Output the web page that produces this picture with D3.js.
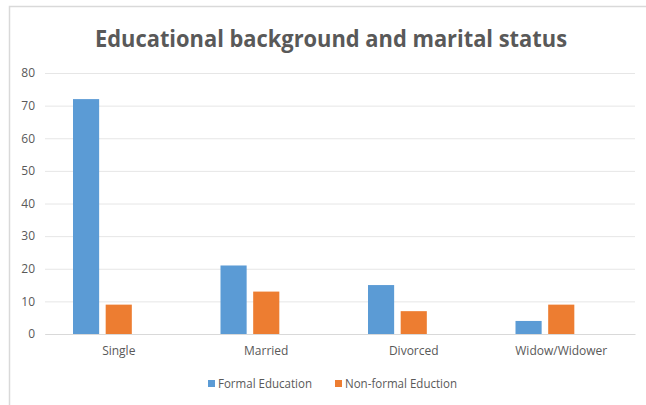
<!DOCTYPE html>
<html><head><meta charset="utf-8">
<script src="https://cdn.jsdelivr.net/npm/d3@7"></script>
<style>body{margin:0;background:#fff}svg{display:block}text{font-family:"Open Sans","Noto Sans",sans-serif}</style>
</head><body><svg id="c" width="646" height="405"></svg>
<script>
const categories = ["Single","Married","Divorced","Widow/Widower"];
const seriesNames = ["Formal Education","Non-formal Eduction"];
const formal = [72,21,15,4];
const nonFormal = [9,13,7,9];
const yTicks = [0,10,20,30,40,50,60,70,80];
const colors = ["#5b9bd5","#ed7d31"];
const title = "Educational background and marital status";

const svg = d3.select("#c");
svg.append("rect").attr("x",9.5).attr("y",6.5).attr("width",700).attr("height",500)
  .attr("fill","#fff").attr("stroke","#d9d9d9").attr("stroke-width",1.5);

const m = {l:45, r:11, t:73, b:71};
const W = 646, H = 405;
const x = d3.scaleBand().domain(categories).range([m.l, W-m.r]);
const y = d3.scaleLinear().domain([0,80]).range([H-m.b, m.t]);
// three slots per group (Excel layout with an empty third series)
const slots = d3.scaleBand().domain([0,1,2]).range([28, x.bandwidth()-28]).paddingInner(0.2);

const yAxis = d3.axisLeft(y).tickValues(yTicks).tickSize(-(W-m.l-m.r)).tickFormat(d3.format("d"));
const gy = svg.append("g").attr("transform",`translate(${m.l},0)`).call(yAxis);
gy.select(".domain").remove();
gy.selectAll(".tick line").attr("stroke","#e6e6e6").attr("stroke-width",1);
gy.selectAll(".tick text").attr("x",-10).attr("fill","#595959").style("font-size","12px");

const xAxis = d3.axisBottom(x).tickSize(0);
const gx = svg.append("g").attr("transform",`translate(0,${y(0)})`).call(xAxis);
gx.select(".domain").attr("stroke","#d9d9d9");
gx.selectAll(".tick text").attr("dy","1.5em").attr("fill","#595959").style("font-size","12px");

const data = [formal, nonFormal];
data.forEach((vals,si)=>{
  svg.append("g").selectAll("rect").data(vals).join("rect")
    .attr("x",(d,i)=>x(categories[i])+slots(si))
    .attr("width",slots.bandwidth())
    .attr("y",d=>y(d))
    .attr("height",d=>y(0)-y(d))
    .attr("fill",colors[si]);
});

svg.append("text").attr("x",331).attr("y",47).attr("text-anchor","middle")
  .attr("fill","#595959").style("font-size","24px").style("font-weight","bold")
  .attr("textLength",472).attr("lengthAdjust","spacingAndGlyphs").text(title);

const legX = [208, 335];
const legLen = [94, 112];
seriesNames.forEach((n,i)=>{
  svg.append("rect").attr("x",legX[i]).attr("y",380).attr("width",7).attr("height",7).attr("fill",colors[i]);
  svg.append("text").attr("x",legX[i]+10).attr("y",387.5).attr("fill","#595959").style("font-size","12px")
    .attr("textLength",legLen[i]).attr("lengthAdjust","spacingAndGlyphs").text(n);
});
</script></body></html>
